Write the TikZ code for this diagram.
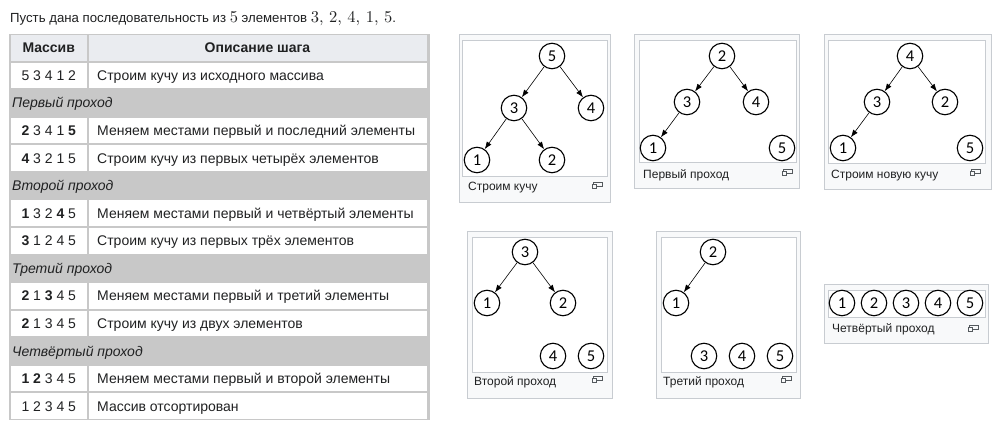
\documentclass[tikz,border=0pt]{standalone}
\usepackage{fontspec}
\setmainfont{Liberation Sans}
\newfontfamily\digitfont{Carlito}
\newfontfamily\lmr{lmroman10-regular}[Extension=.otf]
\usetikzlibrary{arrows.meta}
\definecolor{ink}{HTML}{202122}
\definecolor{tablegray}{HTML}{C8C8C8}
\definecolor{headfill}{HTML}{EAECF0}
\definecolor{thumbline}{HTML}{C8CCD1}
\definecolor{thumbfill}{HTML}{F8F9FA}
\definecolor{icongray}{HTML}{54595D}

\begin{document}
\begin{tikzpicture}[x=1pt,y=-1pt,
  txt/.style={font=\fontsize{14}{16}\selectfont, text=ink, inner sep=0pt},
  capt/.style={font=\fontsize{12}{14}\selectfont, text=ink, inner sep=0pt, anchor=base west},
  thumbouter/.style={draw=thumbline, fill=thumbfill, line width=0.8pt},
  thumbinner/.style={draw=thumbline, fill=white, line width=0.8pt},
  heapnode/.style={circle, draw=black, line width=1.1pt, minimum size=25.5pt, inner sep=0pt,
    font=\digitfont\fontsize{16.5}{16.5}\selectfont},
  heaparrow/.style={-{Latex[length=7.5pt,width=5.5pt]}, line width=0.6pt},
  magnify/.pic={
    \draw[icongray, line width=0.9pt] (-3.7,-3) rectangle (5.7,1);
    \draw[icongray, line width=0.9pt, fill=thumbfill] (-5,-0.7) rectangle (-0.3,3.3);
  }]

% page
\fill[white] (0,0) rectangle (1002,438);
\useasboundingbox (0,0) rectangle (1002,438);

% heading line
\node[txt, anchor=base west, font=\fontsize{13.2}{16}\selectfont] (intro) at (10,23)
  {Пусть дана последовательность из {\lmr\fontsize{16.5}{16}\selectfont 5} элементов
   {\lmr\fontsize{16.5}{16}\selectfont 3, 2, 4, 1, 5}.};

% ---------------- table ----------------
\fill[tablegray] (9,34) rectangle (429.5,420);
\foreach \i in {0,1,3,4,6,7,9,10,12,13}{
  \pgfmathsetmacro\yc{34+27.57*(\i+0.5)}
  \ifnum\i=0
    \fill[headfill] (11,\yc-12.8) rectangle (86.5,\yc+12.8);
    \fill[headfill] (88.5,\yc-12.8) rectangle (427,\yc+12.8);
  \else
    \fill[white] (11,\yc-12.8) rectangle (86.5,\yc+12.8);
    \fill[white] (88.5,\yc-12.8) rectangle (427,\yc+12.8);
  \fi
}
\pgfmathsetmacro\yh{34+27.57*0.5+5}
\node[txt, anchor=base, font=\fontsize{14}{16}\selectfont\bfseries] (hdarr) at (48.75,\yh) {Массив};
\node[txt, anchor=base, font=\fontsize{14}{16}\selectfont\bfseries] (hddesc) at (257.5,\yh) {Описание шага};

\foreach \i/\arr/\desc in {
  1/{5 3 4 1 2}/{Строим кучу из исходного массива},
  3/{\textbf{2} 3 4 1 \textbf{5}}/{Меняем местами первый и последний элементы},
  4/{\textbf{4} 3 2 1 5}/{Строим кучу из первых четырёх элементов},
  6/{\textbf{1} 3 2 \textbf{4} 5}/{Меняем местами первый и четвёртый элементы},
  7/{\textbf{3} 1 2 4 5}/{Строим кучу из первых трёх элементов},
  9/{\textbf{2} 1 \textbf{3} 4 5}/{Меняем местами первый и третий элементы},
  10/{\textbf{2} 1 3 4 5}/{Строим кучу из двух элементов},
  12/{\textbf{1} \textbf{2} 3 4 5}/{Меняем местами первый и второй элементы},
  13/{1 2 3 4 5}/{Массив отсортирован}}{
  \pgfmathsetmacro\yb{34+27.57*(\i+0.5)+5}
  \node[txt, anchor=base] (arr\i) at (48.75,\yb) {\arr};
  \node[txt, anchor=base west] (desc\i) at (97,\yb) {\desc};
}
\foreach \i/\pass in {2/Первый проход, 5/Второй проход, 8/Третий проход, 11/Четвёртый проход}{
  \pgfmathsetmacro\yb{34+27.57*(\i+0.5)+5}
  \node[txt, anchor=base west, font=\fontsize{14}{16}\selectfont\itshape] (pass\i) at (12,\yb) {\pass};
}

% ---------------- heap thumbnails ----------------
% 1: initial heap
\draw[thumbouter] (459,34) rectangle (610,202);
\draw[thumbinner] (462,40) rectangle (607,176);
\node[capt] (cap1) at (468,191) {Строим кучу};
\pic at (597,185) {magnify};
\node[heapnode] (a5) at (552,56) {5};
\node[heapnode] (a3) at (514,108) {3};
\node[heapnode] (a4) at (591,108) {4};
\node[heapnode] (a1) at (477,160) {1};
\node[heapnode] (a2) at (552,160) {2};
\draw[heaparrow] (a5) -- (a3);
\draw[heaparrow] (a5) -- (a4);
\draw[heaparrow] (a3) -- (a1);
\draw[heaparrow] (a3) -- (a2);

% 2: first pass
\draw[thumbouter] (634,34) rectangle (799,188);
\draw[thumbinner] (639,40) rectangle (796,162);
\node[capt] (cap2) at (643,179) {Первый проход};
\pic at (787,172) {magnify};
\node[heapnode] (b2) at (722,56) {2};
\node[heapnode] (b3) at (687,102) {3};
\node[heapnode] (b4) at (756,102) {4};
\node[heapnode] (b1) at (653,148) {1};
\node[heapnode] (b5) at (782,148) {5};
\draw[heaparrow] (b2) -- (b3);
\draw[heaparrow] (b2) -- (b4);
\draw[heaparrow] (b3) -- (b1);

% 3: rebuilt heap
\draw[thumbouter] (824,34) rectangle (991,189);
\draw[thumbinner] (828,40) rectangle (985,163);
\node[capt] (cap3) at (831,179) {Строим новую кучу};
\pic at (975,172) {magnify};
\node[heapnode] (c4) at (910,56) {4};
\node[heapnode] (c3) at (877,102) {3};
\node[heapnode] (c2) at (945,102) {2};
\node[heapnode] (c1) at (843,148) {1};
\node[heapnode] (c5) at (970,148) {5};
\draw[heaparrow] (c4) -- (c3);
\draw[heaparrow] (c4) -- (c2);
\draw[heaparrow] (c3) -- (c1);

% 4: second pass
\draw[thumbouter] (467,231) rectangle (612,398);
\draw[thumbinner] (472,237) rectangle (607,372);
\node[capt] (cap4) at (474,386) {Второй проход};
\pic at (597,379) {magnify};
\node[heapnode] (d3) at (525,252) {3};
\node[heapnode] (d1) at (487,303) {1};
\node[heapnode] (d2) at (563,303) {2};
\node[heapnode] (d4) at (553,356) {4};
\node[heapnode] (d5) at (591,356) {5};
\draw[heaparrow] (d3) -- (d1);
\draw[heaparrow] (d3) -- (d2);

% 5: third pass
\draw[thumbouter] (656,231) rectangle (800,398);
\draw[thumbinner] (661,237) rectangle (796,372);
\node[capt] (cap5) at (663,386) {Третий проход};
\pic at (786,379) {magnify};
\node[heapnode] (e2) at (713,252) {2};
\node[heapnode] (e1) at (676,303) {1};
\node[heapnode] (e3) at (704,356) {3};
\node[heapnode] (e4) at (742,356) {4};
\node[heapnode] (e5) at (780,356) {5};
\draw[heaparrow] (e2) -- (e1);

% 6: fourth pass
\draw[thumbouter] (824,284) rectangle (988,343);
\draw[thumbinner] (828,290) rectangle (985,317);
\node[capt] (cap6) at (832,333) {Четвёртый проход};
\pic at (973,328) {magnify};
\node[heapnode] (f1) at (842,303) {1};
\node[heapnode] (f2) at (874,303) {2};
\node[heapnode] (f3) at (906,303) {3};
\node[heapnode] (f4) at (938,303) {4};
\node[heapnode] (f5) at (970,303) {5};
\end{tikzpicture}
\end{document}
